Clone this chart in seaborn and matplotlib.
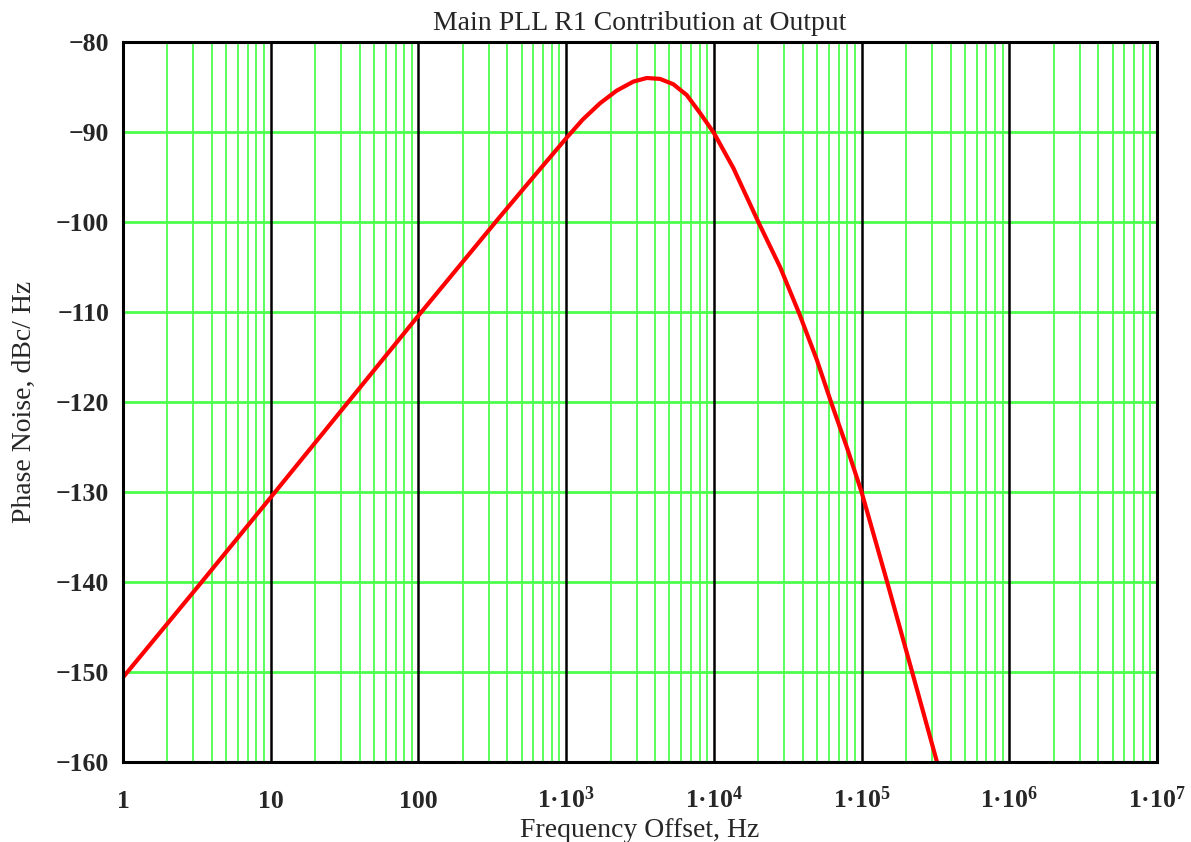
import numpy as np
import pandas as pd
import matplotlib
matplotlib.use("Agg")
import matplotlib.pyplot as plt
import seaborn as sns

# Data
freq_hz = [1, 3.41, 10, 100, 357, 600, 1000, 1298, 1698, 2201, 2851, 3513, 4324,
           5321, 6557, 8070, 10000, 13550, 20000, 28070, 37900,
           49750, 62100, 79400, 100000, 149000, 220000, 324000]
noise_dbc = [-150.6, -140.0, -130.6, -110.4, -99.4, -95.0, -90.7, -88.6, -86.8,
             -85.4, -84.4, -84.0, -84.1, -84.7, -85.9, -87.9, -90.1,
             -94.0, -100.0, -105.0, -110.2, -115.3, -120.0, -125.0, -130.0, -140.0,
             -150.0, -160.0]
y_ticks = [-80, -90, -100, -110, -120, -130, -140, -150, -160]
x_tick_vals = [1, 10, 100, 1e3, 1e4, 1e5, 1e6, 1e7]
x_tick_labels = ["1", "10", "100", "1\u00b710$^{\\mathbf{3}}$", "1\u00b710$^{\\mathbf{4}}$",
                 "1\u00b710$^{\\mathbf{5}}$", "1\u00b710$^{\\mathbf{6}}$", "1\u00b710$^{\\mathbf{7}}$"]
title = "Main PLL R1 Contribution at Output"
xlabel = "Frequency Offset, Hz"
ylabel = "Phase Noise, dBc/ Hz"

sns.set_style("white")
plt.rcParams["font.family"] = ["Liberation Serif", "DejaVu Serif"]
plt.rcParams["mathtext.fontset"] = "custom"
plt.rcParams["mathtext.rm"] = "Liberation Serif"
plt.rcParams["mathtext.bf"] = "Liberation Serif:bold"
plt.rcParams["mathtext.it"] = "Liberation Serif:italic"
plt.rcParams["axes.unicode_minus"] = True

df = pd.DataFrame({"f": freq_hz, "pn": noise_dbc})

fig = plt.figure(figsize=(11.91, 8.42), dpi=100)
ax = fig.add_axes([123 / 1191, 1 - 762 / 842, (1157 - 123) / 1191, (762 - 42) / 842])
ax.set_xscale("log")
ax.set_xlim(1, 1e7)
ax.set_ylim(-160, -80)

green = "#4dff4d"
for dec in range(7):
    for m in range(2, 10):
        ax.axvline(m * 10 ** dec, color=green, lw=1.3, zorder=1)
for dec in range(1, 7):
    ax.axvline(10 ** dec, color="black", lw=1.8, zorder=1.5)
for yv in y_ticks[1:-1]:
    ax.axhline(yv, color=green, lw=2.0, zorder=1.2)

sns.lineplot(data=df, x="f", y="pn", ax=ax, color="#ff0000", lw=3.0, zorder=3)

ax.set_yticks(y_ticks)
ax.set_yticklabels(["\u2212" + str(abs(v)) for v in y_ticks], fontweight="bold", fontsize=18.5)
ax.set_xticks(x_tick_vals)
ax.set_xticklabels(x_tick_labels, fontweight="bold", fontsize=18.5)
ax.minorticks_off()
ax.tick_params(axis="both", length=0)
ax.tick_params(axis="y", pad=10)
ax.tick_params(axis="x", pad=33)
for lbl in ax.get_xticklabels():
    lbl.set_fontweight("bold")
    lbl.set_verticalalignment("baseline")

for s in ax.spines.values():
    s.set_color("black")
    s.set_linewidth(2.2)
    s.set_zorder(4)

ax.set_title(title, fontsize=20, pad=9)
ax.set_xlabel(xlabel, fontsize=20)
ax.xaxis.set_label_coords(0.5, -0.078)
ax.set_ylabel(ylabel, fontsize=20)
ax.yaxis.set_label_coords(-0.083, 0.5)

fig.savefig("out.png", dpi=100, facecolor="white")
